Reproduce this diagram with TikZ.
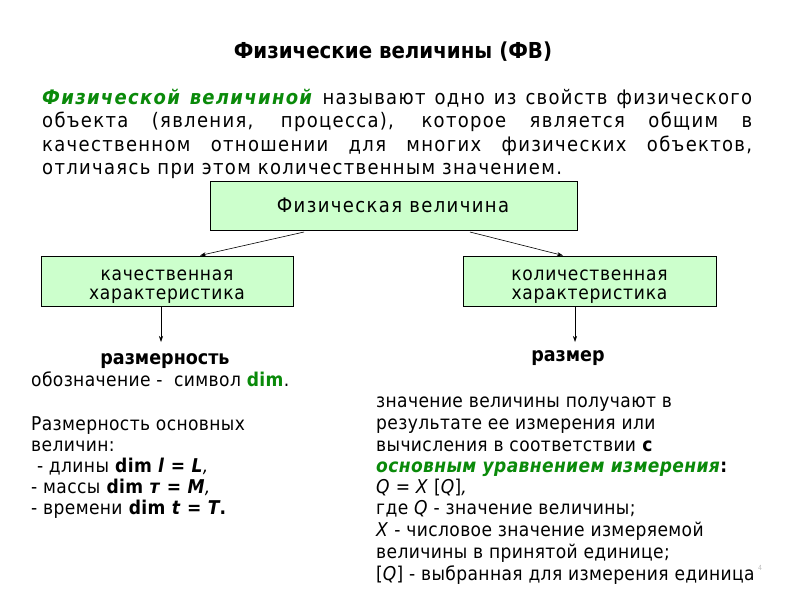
\documentclass[tikz,border=0pt]{standalone}
\usepackage{fontspec}
\setmainfont{DejaVu Sans Condensed}
\usetikzlibrary{arrows.meta}
\definecolor{boxgreen}{HTML}{CCFFCC}
\definecolor{txtgreen}{HTML}{0A8A0A}
\begin{document}
\begin{tikzpicture}[x=1pt,y=-1pt,
  box/.style={draw=black, line width=0.7pt, fill=boxgreen, inner sep=0pt},
  arr/.style={draw=black, line width=0.6pt, -{Stealth[length=6pt,width=4pt]}},
  para/.style={anchor=base west, inner sep=0pt, font=\fontsize{20}{24}\selectfont\addfontfeatures{LetterSpace=6.6}},
  low/.style={anchor=base west, inner sep=0pt, font=\fontsize{19}{22}\selectfont\addfontfeatures{LetterSpace=2}},
  head/.style={anchor=base, inner sep=0pt, font=\bfseries\fontsize{19.5}{22}\selectfont},
  boxtxt/.style={inner sep=0pt, align=center, font=\fontsize{19}{19.5}\selectfont\addfontfeatures{LetterSpace=4}},
  bigboxtxt/.style={inner sep=0pt, font=\fontsize{20}{22}\selectfont\addfontfeatures{LetterSpace=7}}]
\useasboundingbox (0,0) rectangle (800,600);
% title
\node[anchor=base, inner sep=0pt, font=\bfseries\fontsize{22}{24}\selectfont] (title) at (393,58) {Физические величины (ФВ)};
% paragraph
\node[para] (p1) at (42,104) {\makebox[710pt][s]{\textcolor{txtgreen}{\textbf{\textit{Физической величиной}}} называют одно из свойств физического}};
\node[para] (p2) at (42,127) {\makebox[710pt][s]{объекта (явления, процесса), которое является общим в}};
\node[para] (p3) at (42,151) {\makebox[710pt][s]{качественном отношении для многих физических объектов,}};
\node[para] (p4) at (42,174) {отличаясь при этом количественным значением.};
% boxes
\node[box, minimum width=367pt, minimum height=49pt] (fv) at (393.5,205.5) {};
\node[bigboxtxt, anchor=base] (fvt) at (393,212) {Физическая величина};
\node[box, minimum width=252pt, minimum height=50pt] (kach) at (167,281) {};
\node[boxtxt, anchor=base] (kach1) at (167,280) {качественная};
\node[boxtxt, anchor=base] (kach2) at (167,299) {характеристика};
\node[box, minimum width=253pt, minimum height=50pt] (kol) at (589.5,281) {};
\node[boxtxt, anchor=base] (kol1) at (589.5,280) {количественная};
\node[boxtxt, anchor=base] (kol2) at (589.5,299) {характеристика};
% arrows
\coordinate (a1s) at (304,232);
\coordinate (a2s) at (470,232);
\draw[arr] (a1s) -- (200,255.5);
\draw[arr] (a2s) -- (563,255.5);
\coordinate (razmernost) at (161,342);
\coordinate (razmer) at (575,342);
\draw[arr] (kach.south -| razmernost) -- (razmernost);
\draw[arr] (kol.south -| razmer) -- (razmer);
% left text
\node[head] (l0) at (165,364) {размерность};
\node[low] (l1) at (31,386) {обозначение -\ \ символ \textcolor{txtgreen}{\textbf{dim}}.};
\node[low] (l2) at (31,430) {Размерность основных};
\node[low] (l3) at (31,451) {величин:};
\node[low] (l4) at (31,472) {\ - длины \textbf{dim \textit{l} = \textit{L}}\textit{,}};
\node[low] (l5) at (31,493) {- массы \textbf{dim \textit{т} = \textit{M}}\textit{,}};
\node[low] (l6) at (31,514) {- времени \textbf{dim \textit{t} = \textit{T}.}};
% right text
\node[head] (r0) at (568,361) {размер};
\node[low] (r1) at (376,407) {значение величины получают в};
\node[low] (r2) at (376,429) {результате ее измерения или};
\node[low] (r3) at (376,451) {вычисления в соответствии \textbf{с}};
\node[low] (r4) at (376,472) {\textcolor{txtgreen}{\textbf{\textit{основным уравнением измерения}}}\textbf{:}};
\node[low] (r5) at (376,493) {\textit{Q} = \textit{X} [\textit{Q}]\textit{,}};
\node[low] (r6) at (376,514) {где \textit{Q} - значение величины;};
\node[low] (r7) at (376,536) {\textit{X} - числовое значение измеряемой};
\node[low] (r8) at (376,558) {величины в принятой единице;};
\node[low] (r9) at (376,580) {[\textit{Q}] - выбранная для измерения единица};
\node[anchor=base, inner sep=0pt, text=black!25, font=\fontsize{7}{8}\selectfont] (num) at (760,570) {4};
\end{tikzpicture}
\end{document}
